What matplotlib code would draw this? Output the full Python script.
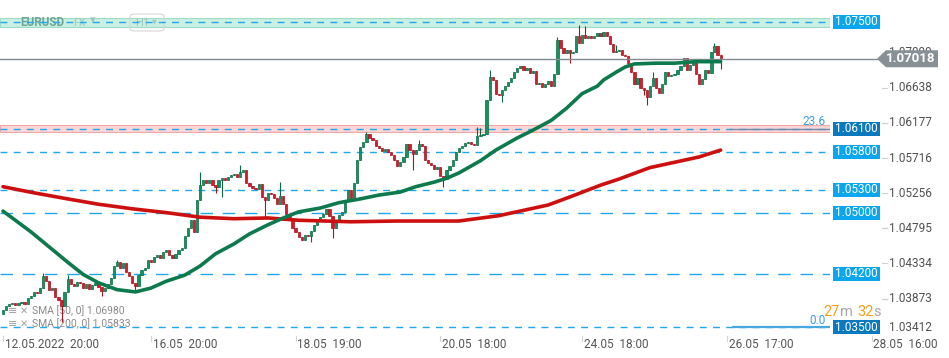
import matplotlib
matplotlib.use("Agg")
import matplotlib.pyplot as plt
import matplotlib.transforms as mtransforms
from matplotlib.patches import Polygon, Rectangle, FancyBboxPatch
import numpy as np

plt.rcParams['font.family'] = ['Roboto', 'DejaVu Sans']

# EURUSD H1 candles, 12.05 20:00 onwards (open of first candle, then closes)
first_open = 1.0367
closes = [
    1.0372, 1.0378, 1.0380, 1.0381, 1.0379, 1.0381, 1.0383, 1.0380, 1.0388, 1.0391,
    1.0396, 1.0395, 1.0401, 1.0417, 1.0410, 1.0399, 1.0401, 1.0389, 1.0385, 1.0378,
    1.0396, 1.0413, 1.0406, 1.0404, 1.0409, 1.0408, 1.0401, 1.0406, 1.0400, 1.0405,
    1.0408, 1.0402, 1.0397, 1.0401, 1.0406, 1.0414, 1.0430, 1.0435, 1.0427, 1.0434,
    1.0422, 1.0417, 1.0408, 1.0404, 1.0418, 1.0425, 1.0427, 1.0438, 1.0435, 1.0442,
    1.0444, 1.0440, 1.0448, 1.0451, 1.0444, 1.0440, 1.0446, 1.0451, 1.0454, 1.0469,
    1.0480, 1.0490, 1.0475, 1.0517, 1.0536, 1.0543, 1.0539, 1.0543, 1.0536, 1.0534,
    1.0543, 1.0545, 1.0543, 1.0547, 1.0549, 1.0551, 1.0547, 1.0553, 1.0556, 1.0539,
    1.0535, 1.0532, 1.0531, 1.0538, 1.0520, 1.0517, 1.0526, 1.0524, 1.0519, 1.0511,
    1.0522, 1.0511, 1.0498, 1.0490, 1.0480, 1.0475, 1.0468, 1.0464, 1.0471, 1.0469,
    1.0476, 1.0484, 1.0490, 1.0494, 1.0498, 1.0505, 1.0496, 1.0480, 1.0490, 1.0497,
    1.0501, 1.0517, 1.0530, 1.0519, 1.0539, 1.0569, 1.0586, 1.0593, 1.0603, 1.0598,
    1.0595, 1.0587, 1.0585, 1.0581, 1.0583, 1.0580, 1.0576, 1.0569, 1.0561, 1.0566,
    1.0573, 1.0590, 1.0582, 1.0577, 1.0582, 1.0590, 1.0587, 1.0569, 1.0565, 1.0562,
    1.0557, 1.0560, 1.0548, 1.0544, 1.0556, 1.0561, 1.0569, 1.0580, 1.0585, 1.0587,
    1.0591, 1.0593, 1.0590, 1.0589, 1.0600, 1.0602, 1.0603, 1.0648, 1.0678, 1.0674,
    1.0656, 1.0654, 1.0661, 1.0666, 1.0671, 1.0677, 1.0684, 1.0690, 1.0692, 1.0687,
    1.0690, 1.0683, 1.0686, 1.0669, 1.0670, 1.0665, 1.0669, 1.0673, 1.0666, 1.0682,
    1.0726, 1.0716, 1.0709, 1.0713, 1.0709, 1.0711, 1.0732, 1.0723, 1.0733, 1.0729,
    1.0732, 1.0729, 1.0732, 1.0736, 1.0732, 1.0737, 1.0732, 1.0721, 1.0711, 1.0712,
    1.0713, 1.0707, 1.0705, 1.0696, 1.0684, 1.0669, 1.0677, 1.0663, 1.0661, 1.0651,
    1.0666, 1.0677, 1.0663, 1.0657, 1.0669, 1.0684, 1.0679, 1.0680, 1.0682, 1.0687,
    1.0692, 1.0703, 1.0687, 1.0694, 1.0699, 1.0682, 1.0669, 1.0675, 1.0687, 1.0683,
    1.0711, 1.0719, 1.0707, 1.07018,
]
# visible wicks (candle index -> price)
high_wicks = {13: 1.0421, 21: 1.0418, 37: 1.0438, 64: 1.0553, 77: 1.0562, 90: 1.0540,
              118: 1.0606, 135: 1.0595, 154: 1.0612, 155: 1.0611, 158: 1.0687,
              180: 1.0730, 187: 1.0746, 189: 1.0745, 199: 1.0720, 211: 1.0684, 231: 1.0723}
low_wicks = {19: 1.0357, 32: 1.0391, 43: 1.0396, 69: 1.0526, 71: 1.0520, 85: 1.0494,
             100: 1.0461, 107: 1.0467, 133: 1.0556, 143: 1.0534, 162: 1.0645,
             184: 1.0696, 208: 1.0654, 209: 1.0641, 233: 1.0688}

# moving averages (candle index, value)
sma50_idx = [0, 9, 15, 21, 26, 31, 37, 43, 48, 53, 59, 64, 69, 75, 80, 86, 91, 96, 103, 109,
             116, 122, 129, 134, 140, 144, 148, 155, 160, 167, 172, 178, 183, 188, 193, 195,
             199, 202, 205, 212, 218, 225, 233]
sma50_val = [1.0502, 1.0475, 1.0455, 1.0435, 1.0419, 1.0408, 1.0399, 1.0396, 1.0401, 1.0410,
             1.0418, 1.0430, 1.0446, 1.0459, 1.0472, 1.0484, 1.0493, 1.0501, 1.0506, 1.0513,
             1.0518, 1.0523, 1.0527, 1.0534, 1.0540, 1.0545, 1.0552, 1.0568, 1.0582, 1.0598,
             1.0608, 1.0621, 1.0637, 1.0656, 1.0666, 1.0674, 1.0684, 1.0691, 1.0695, 1.0696,
             1.0696, 1.0698, 1.0698]
sma200_idx = [0, 10, 21, 31, 42, 53, 64, 75, 86, 96, 113, 128, 148, 161, 177, 185, 194, 200,
              210, 226, 233]
sma200_val = [1.0534, 1.0526, 1.0518, 1.0511, 1.0505, 1.0500, 1.0494, 1.0492, 1.0493, 1.0490,
              1.0488, 1.0489, 1.0489, 1.0496, 1.0510, 1.0522, 1.0536, 1.0544, 1.0559, 1.0573,
              1.0582]

levels = [1.075, 1.061, 1.058, 1.053, 1.050, 1.042, 1.035]
level_labels = ['1.07500', '1.06100', '1.05800', '1.05300', '1.05000', '1.04200', '1.03500']
level_dark = [False, True, False, False, False, False, True]
level_long_dash = [False, False, False, False, True, True, False]

axis_ticks = [1.07099, 1.06638, 1.06177, 1.05716, 1.05256, 1.04795, 1.04334, 1.03873, 1.03412]
time_labels = ['12.05.2022  20:00', '16.05  20:00', '18.05  19:00', '20.05  18:00',
               '24.05  18:00', '26.05  17:00', '28.05  16:00']
time_idx = [0, 48, 95, 142, 188, 235, 282]

last_price = 1.07018
sma50_last = 1.06980
sma200_last = 1.05833

W, H = 949, 358
fig = plt.figure(figsize=(W / 100, H / 100), dpi=100)
ax = fig.add_axes([0, 1 - 335 / H, 830 / W, 335 / H])
ax.axis('off')
ymin, ymax = 1.033951, 1.077885
px = (ymax - ymin) / 335
trans = mtransforms.blended_transform_factory(fig.transFigure, ax.transData)

# candles
opens = [first_open] + closes[:-1]
for i, (o, c) in enumerate(zip(opens, closes)):
    up = c >= o
    fill = '#13935f' if up else '#d81a2c'
    edge = '#0a6a44' if up else '#a8121f'
    hi = high_wicks.get(i, max(o, c))
    lo = low_wicks.get(i, min(o, c))
    ax.vlines(i, lo, hi, color=edge, lw=0.8, zorder=3)
    ax.bar(i, max(abs(c - o), 0.7 * px), bottom=min(o, c), width=0.72,
           color=fill, edgecolor=edge, linewidth=0.5, zorder=3)

ax.plot(sma200_idx, sma200_val, color='#cc1010', lw=2.6, solid_capstyle='round', zorder=5)
ax.plot(sma50_idx, sma50_val, color='#0d7a4e', lw=2.6, solid_capstyle='round', zorder=5)

# zones
ax.axhspan(1.07434, 1.07553, facecolor='#c9f0e2', edgecolor='#9edcc8', lw=0.8, zorder=1)
ax.axhspan(1.06060, 1.06153, facecolor='#fbd6d6', edgecolor='#f0a8a8', lw=0.8, zorder=1)

for lv, long_dash in zip(levels, level_long_dash):
    ls = (0, (9, 7)) if long_dash else (0, (5, 4.5))
    ax.axhline(lv, color='#22a6ee', lw=1, ls=ls, zorder=2)

# fib segments
ax.plot([236, 268.5], [1.061, 1.061], color='#6e8db0', lw=1, zorder=2)
ax.plot([237, 268.5], [1.035, 1.035], color='#4aa8e0', lw=1.6, zorder=2)
ax.text(826 / W, 1.061 + 7 * px, '23.6', transform=trans, ha='right', va='center',
        fontsize=8.5, color='#3a9fe0', zorder=6)
ax.text(826 / W, 1.035 + 7 * px, '0.0', transform=trans, ha='right', va='center',
        fontsize=8.5, color='#3a9fe0', zorder=6)

# current price line
ax.axhline(last_price, xmin=0, xmax=877 / 830, color='#80898d', lw=1, clip_on=False, zorder=4)

# level boxes
for lv, lab, dark in zip(levels, level_labels, level_dark):
    col = '#0a79bd' if dark else '#0ba6ee'
    ax.add_patch(Rectangle((833 / W, lv - 7 * px), 47 / W, 14 * px, transform=trans,
                           facecolor=col, edgecolor='none', clip_on=False, zorder=7))
    ax.text(856.5 / W, lv, lab, transform=trans, ha='center', va='center',
            fontsize=8.5, color='white', clip_on=False, zorder=8)

# price axis
for t in axis_ticks:
    y = t if t > 1.035 else t + 6 * px
    ax.text(889 / W, y, f'{t:.5f}', transform=trans, ha='left', va='center',
            fontsize=8.5, color='#505050', clip_on=False, zorder=6)
    if t > 1.035:
        ax.plot([882 / W, 887 / W], [t, t], transform=trans, color='#cfcfcf', lw=0.8,
                clip_on=False, zorder=6)

# current price tag
h2 = 8.5 * px
ax.add_patch(Polygon([(877 / W, last_price), (886 / W, last_price + h2), (938 / W, last_price + h2),
                      (938 / W, last_price - h2), (886 / W, last_price - h2)],
                     closed=True, transform=trans, facecolor='#879094', edgecolor='none',
                     clip_on=False, zorder=9))
ax.text(911 / W, last_price, f'{last_price:.5f}', transform=trans, ha='center', va='center',
        fontsize=9.5, fontweight='bold', color='white', clip_on=False, zorder=10)

# time axis
xt = ax.get_xaxis_transform()
for ti, lab in zip(time_idx, time_labels):
    ax.plot([ti, ti], [-0.003, -0.018], transform=xt, color='#d5d5d5', lw=0.8, clip_on=False)
    ax.text(ti + 0.6, -10 / 335, lab, transform=xt, ha='left', va='center',
            fontsize=8.5, color='#555555', clip_on=False)

# countdown
ft = fig.transFigure
cy = 1 - 312 / H
for xpos, s, col in [(823, '27', '#f5a11c'), (840, 'm', '#a9a9a9'),
                     (857, '32', '#f5a11c'), (873, 's', '#a9a9a9')]:
    ax.text(xpos / W, cy, s, transform=ft, ha='left', va='center', fontsize=10.5,
            color=col, clip_on=False, zorder=6)

# indicator legend (under the candles)
for row, (name, val) in enumerate([('SMA [50, 0]', sma50_last), ('SMA [200, 0]', sma200_last)]):
    yy = 1 - (311 + 13 * row) / H
    ax.text(8 / W, yy, '≡', transform=ft, ha='left', va='center', fontsize=8,
            color='#a0a0a0', zorder=1)
    ax.text(20 / W, yy, '✕', transform=ft, ha='left', va='center', fontsize=7,
            color='#a0a0a0', zorder=1)
    ax.text(32 / W, yy, f'{name} {val:.5f}', transform=ft, ha='left', va='center',
            fontsize=7.5, color='#8a8a8a', zorder=1)

# symbol header
ty = 1 - 22.5 / H
ax.text(20 / W, ty, 'EURUSD', transform=ft, ha='left', va='center', fontsize=8.5,
        fontweight='bold', color='#6fa596', zorder=1.5)
ax.text(73 / W, ty - 1 / H, 'FX', transform=ft, ha='left', va='center', fontsize=7.5,
        color='#9cc6bb', zorder=1.5)
ax.text(90 / W, ty + 2 / H, '▾', transform=ft, ha='left', va='center', fontsize=8,
        color='#9cc2b9', zorder=1.5)
ax.add_patch(FancyBboxPatch((130 / W, 1 - 31 / H), 34 / W, 17 / H,
                            boxstyle='round,pad=0,rounding_size=0.006', transform=ft,
                            facecolor='none', edgecolor='#d6d6d6', lw=0.8, clip_on=False, zorder=1.5))
ax.text(135 / W, ty, 'H1', transform=ft, ha='left', va='center', fontsize=8,
        color='#9cc6bb', zorder=1.5)
ax.text(152 / W, ty + 1 / H, '▾', transform=ft, ha='left', va='center', fontsize=7,
        color='#a5c6be', zorder=1.5)

ax.set_xlim(-3 / 3.08, (830 - 3) / 3.08)
ax.set_ylim(ymin, ymax)

fig.savefig('out.png', dpi=100, facecolor='white')
